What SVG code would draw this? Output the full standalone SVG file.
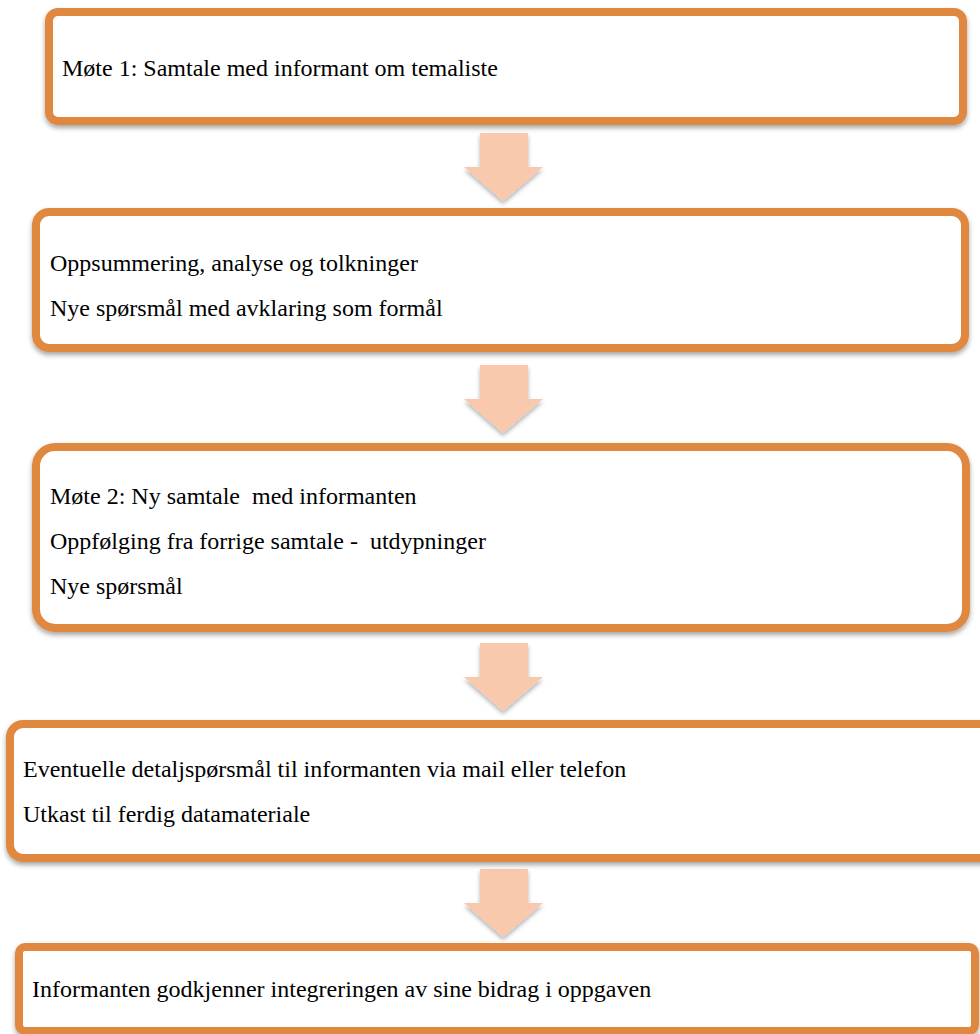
<svg xmlns="http://www.w3.org/2000/svg" width="980" height="1034" viewBox="0 0 980 1034">
<style>
.box{fill:#FFFFFF;stroke:#E0873F;stroke-width:8;filter:url(#sh)}
.t{font-family:"Liberation Serif","Times New Roman",serif;font-size:24px;fill:#000;white-space:pre}
.arr{fill:#F9C9AE;filter:url(#sh2)}
</style>
<defs>
<filter id="sh" x="-5%" y="-10%" width="110%" height="130%">
<feDropShadow dx="0" dy="3" stdDeviation="2.5" flood-color="#000" flood-opacity="0.35"/>
</filter>
<filter id="sh2" x="-20%" y="-20%" width="140%" height="140%">
<feDropShadow dx="0" dy="3" stdDeviation="2" flood-color="#000" flood-opacity="0.3"/>
</filter>
<path id="arrow" d="M480,0 H528 V34 H543 L503,68 L464,34 H480 Z"/>
</defs>
<rect width="980" height="1034" fill="#FFFFFF"/>
<g id="connectors">
<use href="#arrow" class="arr" y="133"/>
<use href="#arrow" class="arr" y="365"/>
<use href="#arrow" class="arr" y="643"/>
<use href="#arrow" class="arr" y="869"/>
</g>
<g id="node1">
<rect class="box" x="49" y="12" width="914" height="109" rx="9"/>
<text class="t" x="62" y="76">Møte 1: Samtale med informant om temaliste</text>
</g>
<g id="node2">
<rect class="box" x="36" y="212" width="929" height="136" rx="13"/>
<text class="t" x="50" y="271">Oppsummering, analyse og tolkninger</text>
<text class="t" x="50" y="316">Nye spørsmål med avklaring som formål</text>
</g>
<g id="node3">
<rect class="box" x="36" y="447" width="930" height="181" rx="19"/>
<text class="t" x="50" y="504">Møte 2: Ny samtale  med informanten</text>
<text class="t" x="50" y="549">Oppfølging fra forrige samtale -  utdypninger</text>
<text class="t" x="50" y="594">Nye spørsmål</text>
</g>
<g id="node4">
<rect class="box" x="10" y="724" width="1000" height="134" rx="13"/>
<text class="t" x="23" y="777">Eventuelle detaljspørsmål til informanten via mail eller telefon</text>
<text class="t" x="23" y="822">Utkast til ferdig datamateriale</text>
</g>
<g id="node5">
<rect class="box" x="19" y="947" width="956" height="84" rx="6"/>
<text class="t" x="32" y="997">Informanten godkjenner integreringen av sine bidrag i oppgaven</text>
</g>
</svg>
